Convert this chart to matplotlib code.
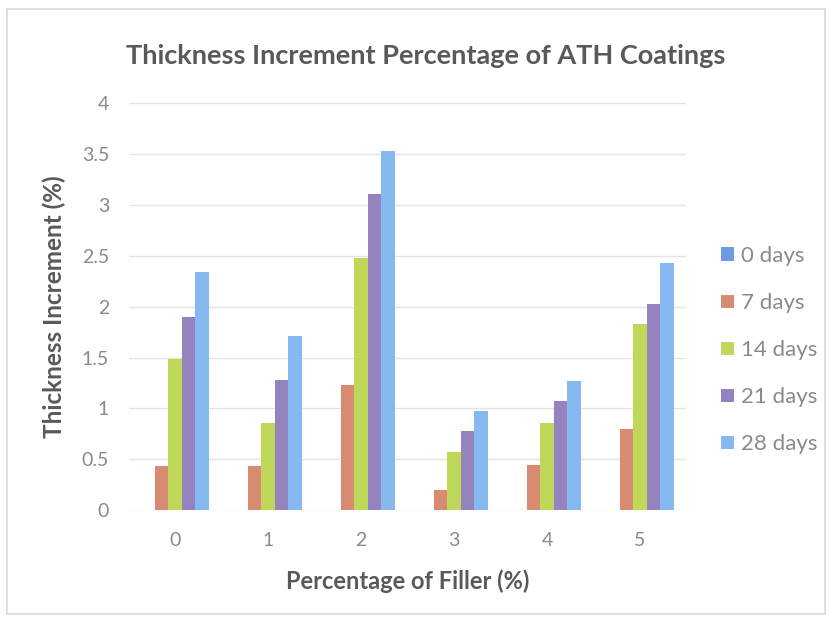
import numpy as np
import matplotlib.pyplot as plt
from matplotlib.patches import Rectangle

plt.rcParams['font.family'] = ['Lato', 'DejaVu Sans']

fillers = ['0', '1', '2', '3', '4', '5']
series = ['0 days', '7 days', '14 days', '21 days', '28 days']
days_0 = [0, 0, 0, 0, 0, 0]
days_7 = [0.43, 0.43, 1.23, 0.20, 0.44, 0.80]
days_14 = [1.49, 0.86, 2.48, 0.57, 0.86, 1.83]
days_21 = [1.90, 1.28, 3.11, 0.78, 1.07, 2.03]
days_28 = [2.34, 1.71, 3.53, 0.97, 1.27, 2.43]
colors = ['#6E9BE0', '#D98B72', '#BFD85A', '#9583C0', '#86B9F0']

fig = plt.figure(figsize=(8.3, 6.2), dpi=100)
ax = fig.add_axes([0.155, 0.177, 0.672, 0.657])

# light frame around the whole chart
fig.patches.append(Rectangle((0.009, 0.01), 0.985, 0.975, transform=fig.transFigure,
                             fill=False, edgecolor='#d9d9d9', linewidth=1.2))

x = np.arange(len(fillers))
w = 0.145
for i, (vals, lab) in enumerate(zip([days_0, days_7, days_14, days_21, days_28], series)):
    ax.bar(x + (i - 2) * w, vals, width=w, color=colors[i], label=lab, zorder=3)

ax.set_ylim(0, 4)
ax.set_xlim(-0.5, 5.5)
ax.set_yticks(np.arange(0, 4.01, 0.5))
ax.set_yticklabels(['0', '0.5', '1', '1.5', '2', '2.5', '3', '3.5', '4'])
ax.set_xticks(x)
ax.set_xticklabels(fillers)
ax.grid(axis='y', color='#e3e3e3', linewidth=1, zorder=0)
for s in ax.spines.values():
    s.set_visible(False)
ax.tick_params(length=0, labelsize=14, colors='#8a8a8a')
ax.tick_params(axis='y', pad=14)
ax.tick_params(axis='x', pad=16)

ax.set_title('Thickness Increment Percentage of ATH Coatings', fontsize=19.5,
             fontweight='bold', color='#595959', pad=28, x=0.533)
ax.set_xlabel('Percentage of Filler (%)', fontsize=17, fontweight='bold',
              color='#595959', labelpad=14)
ax.set_ylabel('Thickness Increment (%)', fontsize=17.5, fontweight='bold',
              color='#595959')
ax.yaxis.set_label_coords(-0.112, 0.5)

leg = ax.legend(loc='center left', bbox_to_anchor=(1.027, 0.393), frameon=False,
                fontsize=16, labelspacing=1.22, handlelength=0.55, handleheight=0.55,
                handletextpad=0.35)
for t in leg.get_texts():
    t.set_color('#8a8a8a')

fig.savefig('out.png', dpi=100)
